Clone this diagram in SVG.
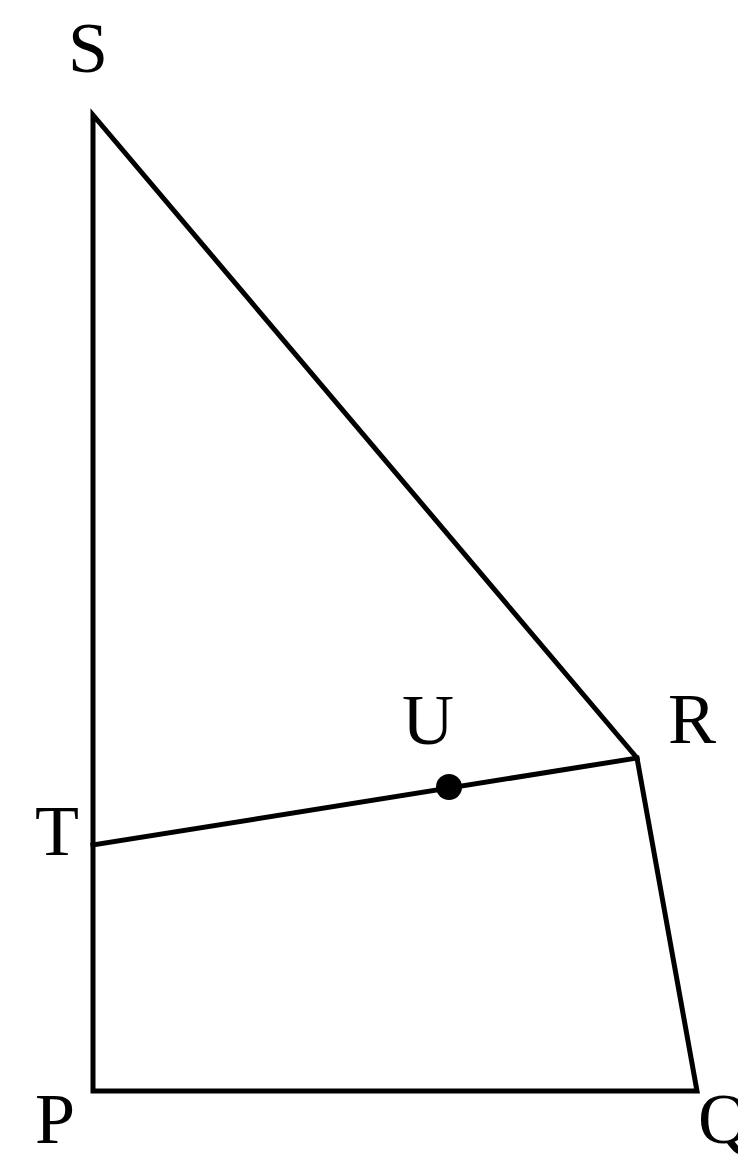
<svg xmlns="http://www.w3.org/2000/svg" width="738" height="1168" viewBox="0 0 738 1168">
<style>
.e{stroke:#000;stroke-width:5;fill:none;stroke-linejoin:miter;stroke-linecap:square}
.l{font-family:"Liberation Serif","Times New Roman",serif;font-size:72px;fill:#000}
</style>
<rect width="738" height="1168" fill="#fff"/>
<g id="connectors">
<path class="e" d="M93,115 L93,1091 L697,1091 L637,758 Z"/>
<path class="e" d="M93,845 L637,758"/>
</g>
<g id="S"><text class="l" x="88" y="72" text-anchor="middle">S</text></g>
<g id="R"><text class="l" x="692" y="743" text-anchor="middle">R</text></g>
<g id="U"><circle cx="449" cy="787" r="13" fill="#000"/><text class="l" x="428" y="744" text-anchor="middle">U</text></g>
<g id="T"><text class="l" x="57" y="855" text-anchor="middle">T</text></g>
<g id="P"><text class="l" x="55" y="1143" text-anchor="middle">P</text></g>
<g id="Q"><text class="l" x="698" y="1143">Q</text></g>
</svg>
